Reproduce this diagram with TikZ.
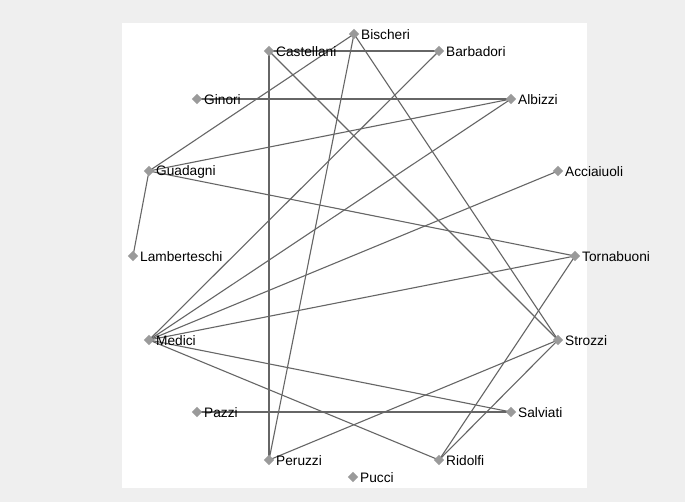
\documentclass[tikz,border=0pt]{standalone}
\usepackage{fontspec}
\setmainfont{Liberation Sans}
\usetikzlibrary{shapes.geometric}
\definecolor{bgc}{HTML}{EFEFEF}
\definecolor{edgec}{HTML}{666666}
\definecolor{nodec}{HTML}{9A9A9A}
\tikzset{
  fam/.style={diamond, fill=nodec, draw=none, inner sep=0pt, minimum size=10.5pt},
  famlab/.style={anchor=west, inner sep=0pt, font=\fontsize{13.7}{16}\selectfont, text=black},
  tie/.style={draw=edgec, line width=1.1pt},
}
\begin{document}
\begin{tikzpicture}[x=1pt,y=-1pt]
\fill[bgc] (0,0) rectangle (685,502);
\fill[white] (122,23) rectangle (587,488);
\useasboundingbox (0,0) rectangle (685,502);
% node coordinates
\coordinate (Bischeri) at (354,34);
\coordinate (Castellani) at (269,51);
\coordinate (Barbadori) at (439,51);
\coordinate (Ginori) at (197,99);
\coordinate (Albizzi) at (511,99);
\coordinate (Guadagni) at (149,171);
\coordinate (Acciaiuoli) at (558,171);
\coordinate (Lamberteschi) at (133,256);
\coordinate (Tornabuoni) at (575,256);
\coordinate (Medici) at (149,340);
\coordinate (Strozzi) at (558,340);
\coordinate (Pazzi) at (197,412);
\coordinate (Salviati) at (511,412);
\coordinate (Peruzzi) at (269,460);
\coordinate (Ridolfi) at (439,460);
\coordinate (Pucci) at (353,477);
% ties
\draw[tie] (Acciaiuoli) -- (Medici);
\draw[tie] (Albizzi) -- (Ginori);
\draw[tie] (Albizzi) -- (Guadagni);
\draw[tie] (Albizzi) -- (Medici);
\draw[tie] (Barbadori) -- (Castellani);
\draw[tie] (Barbadori) -- (Medici);
\draw[tie] (Bischeri) -- (Guadagni);
\draw[tie] (Bischeri) -- (Peruzzi);
\draw[tie] (Bischeri) -- (Strozzi);
\draw[tie] (Castellani) -- (Peruzzi);
\draw[tie] (Castellani) -- (Strozzi);
\draw[tie] (Guadagni) -- (Lamberteschi);
\draw[tie] (Guadagni) -- (Tornabuoni);
\draw[tie] (Medici) -- (Ridolfi);
\draw[tie] (Medici) -- (Salviati);
\draw[tie] (Medici) -- (Tornabuoni);
\draw[tie] (Pazzi) -- (Salviati);
\draw[tie] (Peruzzi) -- (Strozzi);
\draw[tie] (Ridolfi) -- (Strozzi);
\draw[tie] (Ridolfi) -- (Tornabuoni);
% markers and labels
\foreach \n in {Bischeri,Castellani,Barbadori,Ginori,Albizzi,Guadagni,Acciaiuoli,Lamberteschi,Tornabuoni,Medici,Strozzi,Pazzi,Salviati,Peruzzi,Ridolfi,Pucci}{
  \node[fam] (m\n) at (\n) {};
  \node[famlab] (l\n) at ([xshift=7pt,yshift=-0.5pt]\n) {\n};
}
\end{tikzpicture}
\end{document}
